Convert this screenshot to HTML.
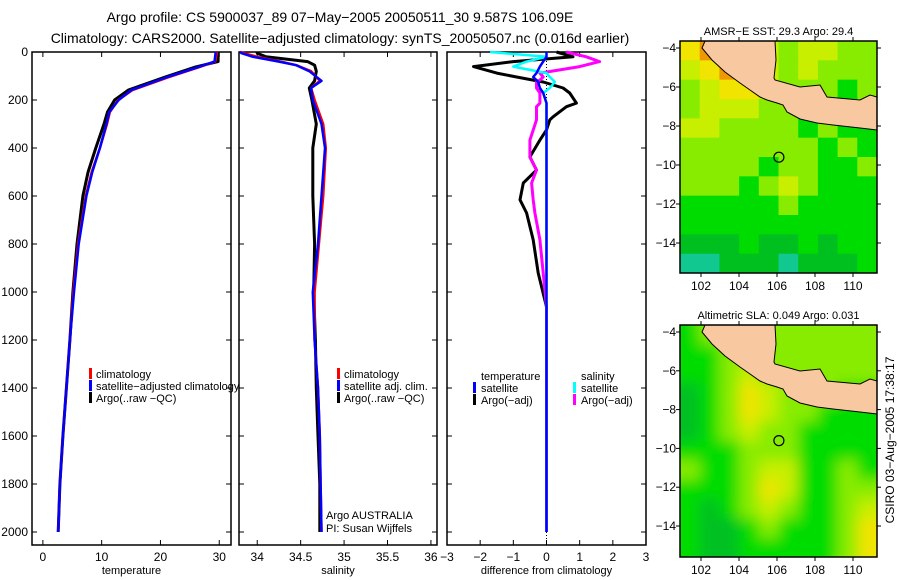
<!DOCTYPE html>
<html><head><meta charset="utf-8"><style>
body{margin:0;background:#fff;}
svg{display:block;font-family:"Liberation Sans",sans-serif;}
</style></head><body>
<svg id="fig" width="900" height="580" viewBox="0 0 900 580">
<rect width="900" height="580" fill="#fff"/>
<text x="340" y="22" font-size="14" text-anchor="middle">Argo profile: CS 5900037_89 07−May−2005 20050511_30 9.587S 106.09E</text>
<text x="340" y="43" font-size="14" text-anchor="middle">Climatology: CARS2000. Satellite−adjusted climatology: synTS_20050507.nc (0.016d earlier)</text>
<g id="panels"></g>
<g id="maps"></g>
<text transform="translate(894,440) rotate(-90)" font-size="12" text-anchor="middle">CSIRO 03−Aug−2005 17:38:17</text>
</svg>
<script>
// ---- data ----
const depthTicks=[0,200,400,600,800,1000,1200,1400,1600,1800,2000];
const tempTicks=[0,10,20,30];
const salTicks=[34,34.5,35,35.5,36];
const diffTicks=[-3,-2,-1,0,1,2,3];
const tDepth=[0,40,62,104,158,200,250,300,400,500,600,800,1000,1200,1400,1600,1800,2000];
const tClim=[29.6,29.3,26.7,21.5,15.3,12.8,11.4,10.9,9.7,8.3,7.3,6.0,5.2,4.6,4.0,3.4,2.9,2.6];
const tSat=[29.4,29.2,26.5,21.2,15.1,12.9,11.3,10.8,9.7,8.4,7.4,6.1,5.3,4.6,4.0,3.4,2.9,2.6];
const tArgo=[29.8,29.8,26.0,20.8,14.6,12.2,11.0,10.4,9.0,7.7,6.8,5.8,5.1,4.6,4.0,3.4,2.9,2.6];
const sDepth=[0,5,20,40,55,80,120,150,200,300,400,600,800,1000,1200,1400,1600,1800,2000];
const sClim=[33.80,33.85,34.0,34.27,34.45,34.62,34.72,34.62,34.66,34.76,34.79,34.76,34.71,34.66,34.66,34.70,34.72,34.73,34.74];
const sSat=[33.80,33.82,33.95,34.25,34.45,34.60,34.74,34.62,34.64,34.74,34.78,34.74,34.70,34.64,34.66,34.70,34.72,34.73,34.74];
const sArgo=[34.0,34.0,34.1,34.58,34.66,34.68,34.66,34.60,34.63,34.68,34.64,34.64,34.66,34.65,34.67,34.68,34.70,34.72,34.72];
const dDepth=[0,20,40,61,88,104,117,125,150,171,213,228,270,283,325,367,437,492,546,616,671,783,921,1062,1500,2000];
const dTempSat=[0,0,-0.1,-0.2,-0.3,-0.4,-0.3,-0.25,-0.2,-0.1,0,0,0,0,0,0,0,0,0,0,0,0,0,0,0,0];
const dTempArgo=[0.3,0.8,-1.0,-2.2,-1.5,-0.9,-0.4,-0.1,0.5,0.7,0.9,0.6,0.2,0.1,0.0,-0.2,-0.5,-0.3,-0.7,-0.8,-0.6,-0.4,-0.25,0,0,0];
const dSalSat=[-1.7,0,-0.6,-1.0,0,0.1,0.2,0.25,0.1,-0.1,0,0,0,0,0,0,0,0,0,0,0,0,0,0,0,0];
const dSalArgo=[0.6,1.2,1.6,1.0,-0.2,-0.1,-0.2,-0.3,-0.3,-0.2,-0.2,-0.3,-0.3,-0.3,-0.4,-0.5,-0.5,-0.3,-0.45,-0.4,-0.35,-0.2,-0.1,0,0,0];
const lonTicks=[102,104,106,108,110];
const latTicks=[-4,-6,-8,-10,-12,-14];
const sstGrid=[
[5,6,5,4,4,3,4,4,3,3],[4,5,6,5,4,3,4,3,3,3],[3,4,5,5,4,3,3,3,2,3],[3,4,4,4,3,3,3,3,3,3],
[4,4,3,3,3,3,2,3,2,2],[3,3,3,3,3,3,3,2,3,2],[3,3,3,3,2,3,3,2,2,3],[3,3,3,2,3,4,3,2,2,2],
[2,2,2,2,2,3,2,2,2,2],[2,2,2,2,2,2,2,2,2,2],[1,1,1,2,1,1,2,1,2,2],[0,0,1,1,1,0,1,1,1,2]];
const slaGrid=[
[2,3,3,3,3,3,3,3,3,3],[2,2,3,3,3,3,3,3,3,3],[2,2,3,4,3,3,3,3,3,3],[1,2,3,5,4,3,3,3,2,2],
[1,2,3,5,4,3,3,2,2,2],[1,2,3,4,3,3,2,2,2,2],[2,2,2,3,3,3,2,2,2,2],[3,2,2,3,4,4,2,2,3,2],
[2,2,2,3,5,4,2,2,3,3],[2,1,2,3,4,3,2,2,3,4],[2,1,1,2,3,2,2,2,3,5],[2,1,1,2,2,2,2,2,3,5]];
const palette=["#10c890","#00c020","#00dc00","#88ec00","#c8ee00","#f0e400","#f09800"];
// ---- helpers ----
const NS="http://www.w3.org/2000/svg";
function mk(tag,attrs,parent){const e=document.createElementNS(NS,tag);for(const k in attrs)e.setAttribute(k,attrs[k]);parent.appendChild(e);return e;}
const P=document.getElementById('panels');
const top0=52,bot=545;
const yD=d=>top0+d*0.24;
function panel(name,x0,x1,dmin,dmax,ticks,fmt,xlabel){
  const g=mk('g',{},P);
  
  
  const sx=v=>x0+(v-dmin)/(dmax-dmin)*(x1-x0);
  const fr=mk('rect',{x:x0,y:top0,width:x1-x0,height:bot-top0,fill:'none',stroke:'#000','stroke-width':1.5},g);
  
  
  ticks.forEach(t=>{const x=sx(t);
    mk('line',{x1:x,x2:x,y1:bot,y2:bot-5,stroke:'#000'},g);
    mk('line',{x1:x,x2:x,y1:top0,y2:top0+5,stroke:'#000'},g);
    const tl=mk('text',{x:x,y:561,'font-size':12,'text-anchor':'middle'},g);tl.textContent=fmt(t);
    
    });
  depthTicks.forEach(d=>{const y=yD(d);
    mk('line',{x1:x0,x2:x0+5,y1:y,y2:y,stroke:'#000'},g);
    mk('line',{x1:x1,x2:x1-5,y1:y,y2:y,stroke:'#000'},g);});
  const xl=mk('text',{x:(x0+x1)/2,y:574,'font-size':11,'text-anchor':'middle'},g);xl.textContent=xlabel;
  
  
  return {g,sx};
}
function line(p,depths,vals,color,w,name){
  const d=depths.map((dd,i)=>(i?'L':'M')+p.sx(vals[i]).toFixed(1)+','+yD(dd).toFixed(1)).join('');
  const e=mk('path',{d:d,fill:'none',stroke:color,'stroke-width':w,'stroke-linejoin':'round'},p.g);
  
  
}
function txt(g,x,y,s,name,size){const t=mk('text',{x:x,y:y,'font-size':size||11},g);t.textContent=s;
  
  return t;}
function mark(g,x,y,c){mk('rect',{x:x,y:y-10,width:3,height:11,fill:c},g);}
// depth labels
const yl=mk('g',{},P);


depthTicks.forEach(d=>{const t=mk('text',{x:28,y:yD(d)+4,'font-size':12,'text-anchor':'end'},yl);t.textContent=d;
  
  });
// panel 1
const p1=panel('temperature-panel',32,231,-1.85,32.0,tempTicks,String,'temperature');
line(p1,tDepth,tArgo,'#000',3,'temp-argo-line');
line(p1,tDepth,tClim,'#f00',2.5,'temp-climatology-line');
line(p1,tDepth,tSat,'#00f',2.5,'temp-satellite-line');
mark(p1.g,89,378,'#f00');txt(p1.g,96,378,'climatology','legend-climatology');
mark(p1.g,89,390,'#00f');txt(p1.g,96,390,'satellite−adjusted climatology','legend-satellite');
mark(p1.g,89,402,'#000');txt(p1.g,96,402,'Argo(..raw −QC)','legend-argo');
// panel 2
const p2=panel('salinity-panel',239,437,33.79,36.07,salTicks,t=>String(t),'salinity');
line(p2,sDepth,sArgo,'#000',3,'sal-argo-line');
line(p2,sDepth,sClim,'#f00',2.5,'sal-climatology-line');
line(p2,sDepth,sSat,'#00f',2.5,'sal-satellite-line');
mark(p2.g,337,378,'#f00');txt(p2.g,344,378,'climatology','legend-climatology-2');
mark(p2.g,337,390,'#00f');txt(p2.g,344,390,'satellite adj. clim.','legend-satellite-2');
mark(p2.g,337,402,'#000');txt(p2.g,344,402,'Argo(..raw −QC)','legend-argo-2');
txt(p2.g,326,519,'Argo AUSTRALIA','float-owner');
txt(p2.g,326,532,'PI: Susan Wijffels','float-pi');
// panel 3
const p3=panel('difference-panel',447,646,-3,3,diffTicks,t=>t<0?'−'+(-t):String(t),'difference from climatology');
mk('line',{x1:p3.sx(0),x2:p3.sx(0),y1:top0,y2:bot,stroke:'#000','stroke-dasharray':'1,2'},p3.g);
line(p3,dDepth,dTempArgo,'#000',3,'temp-argo-diff-line');
line(p3,dDepth,dSalArgo,'#f0f',3,'sal-argo-diff-line');
line(p3,dDepth,dSalSat,'#0ff',2.5,'sal-satellite-diff-line');
line(p3,dDepth,dTempSat,'#00f',2.5,'temp-satellite-diff-line');
txt(p3.g,481,380,'temperature','legend-temp-header');
mark(p3.g,473,392,'#00f');txt(p3.g,481,392,'satellite','legend-temp-satellite');
mark(p3.g,473,404,'#000');txt(p3.g,481,404,'Argo(−adj)','legend-temp-argo');
txt(p3.g,581,380,'salinity','legend-sal-header');
mark(p3.g,573,392,'#0ff');txt(p3.g,581,392,'satellite','legend-sal-satellite');
mark(p3.g,573,404,'#f0f');txt(p3.g,581,404,'Argo(−adj)','legend-sal-argo');
// maps
const M=document.getElementById('maps');
const land="M705,41 L775,41 L776,60 L774,78 L775,80 L800,87 L820,85 L827,97 L860,100 L870,95 L877,97 L877,130 L860,128 L833,125 L817,123 L800,119 L787,112 L783,105 L777,103 L767,100 L760,97 L750,90 L740,83 L725,72 L712,60 L702,48 Z";
function map(name,y0,y1,grid,title,blur,lat4,lat14){
  const x0=680,x1=877;
  const g=mk('g',{},M);
  
  
  const id=name+'-clip';
  const cp=mk('clipPath',{id:id},g);mk('rect',{x:x0,y:y0,width:x1-x0,height:y1-y0},cp);
  const cg=mk('g',{'clip-path':'url(#'+id+')'},g);
  const inner=mk('g',blur?{filter:'url(#'+name+'-blur)'}:{},cg);
  if(blur){const f=mk('filter',{id:name+'-blur',x:'-0.1',y:'-0.1',width:'1.2',height:'1.2'},g);mk('feGaussianBlur',{stdDeviation:7},f);}
  const cw=(x1-x0)/grid[0].length,ch=(y1-y0)/grid.length;
  grid.forEach((row,r)=>row.forEach((v,c)=>{
    const cell=mk('rect',{x:x0+c*cw-(blur?12:0)*(c==0),y:y0+r*ch-(blur?12:0)*(r==0),width:cw+0.5+(blur?12:0)*(c==0||c==row.length-1),height:ch+0.5+(blur?12:0)*(r==0||r==grid.length-1),fill:palette[v]},inner);
    
    
  }));
  const ld=mk('path',{d:land,fill:'#f8c8a0',stroke:'#000','stroke-width':1,transform:'translate(0,'+(y0-41)+')'},cg);
  
  
  const sy=v=>lat4+(v+4)/(-10)*(lat14-lat4);
  const sx=v=>701+(v-102)*19;
  const c=mk('circle',{cx:sx(106.1),cy:sy(-9.6),r:5,fill:'none',stroke:'#000','stroke-width':1.2},g);
  
  
  mk('rect',{x:x0,y:y0,width:x1-x0,height:y1-y0,fill:'none',stroke:'#000','stroke-width':1.5},g);
  lonTicks.forEach(v=>{const x=sx(v);mk('line',{x1:x,x2:x,y1:y1,y2:y1+4,stroke:'#000'},g);mk('line',{x1:x,x2:x,y1:y0,y2:y0-4,stroke:'#000'},g);
    const t=mk('text',{x:x,y:y1+17,'font-size':12,'text-anchor':'middle'},g);t.textContent=v;
    
    });
  latTicks.forEach(v=>{const y=sy(v);mk('line',{x1:x0,x2:x0-4,y1:y,y2:y,stroke:'#000'},g);mk('line',{x1:x1,x2:x1+4,y1:y,y2:y,stroke:'#000'},g);
    const t=mk('text',{x:x0-4,y:y+4,'font-size':12,'text-anchor':'end'},g);t.textContent='−'+(-v);
    
    });
  const tt=mk('text',{x:(x0+x1)/2,y:y0-6,'font-size':11,'text-anchor':'middle'},g);tt.textContent=title;
  
  
}
map('sst-map',41,273,sstGrid,'AMSR−E SST: 29.3 Argo: 29.4',false,48,243);
map('sla-map',325,557,slaGrid,'Altimetric SLA: 0.049 Argo: 0.031',true,332,526);
</script>
</body></html>
